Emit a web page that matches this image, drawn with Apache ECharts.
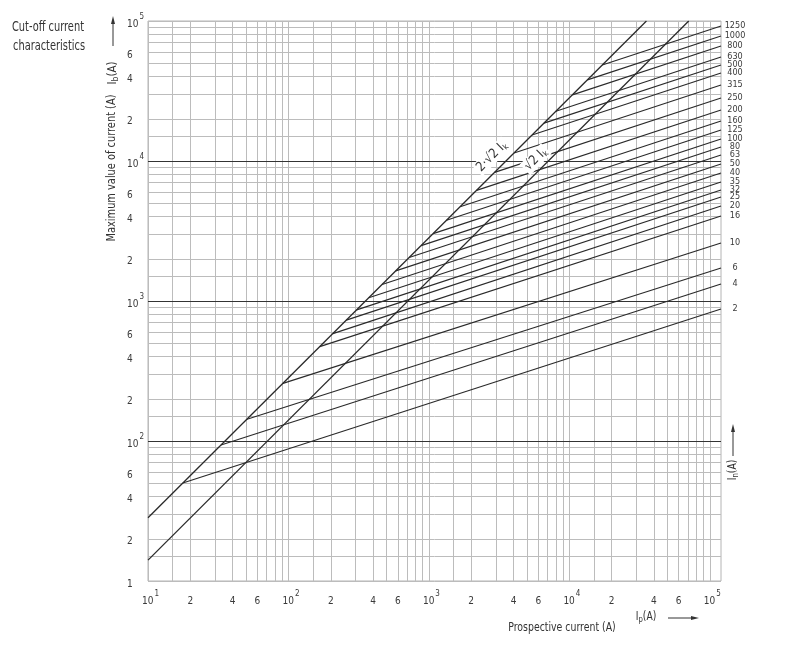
<!DOCTYPE html>
<html><head><meta charset="utf-8">
<script src="https://cdn.jsdelivr.net/npm/echarts@6/dist/echarts.min.js"></script>
<style>html,body{margin:0;padding:0;background:#fff}#c{width:792px;height:659px}</style>
</head><body><div id="c"></div>
<script>
// ---- data ----
const ratings = ['2','4','6','10','16','20','25','32','35','40','50','63','80','100','125','160','200','250','315','400','500','630','800','1000','1250'];
const startIp   = [17.7, 33.1, 50.7, 91.4, 167, 207, 258, 306, 373, 464, 580, 723, 880, 1071, 1334, 1667, 2182, 2932, 4036, 5420, 6590, 8017, 10500, 13430, 17140];
const startPeak = [50.1, 93.6, 143, 258, 472, 585, 730, 865, 1055, 1312, 1640, 2045, 2489, 3029, 3773, 4715, 6171, 8293, 11415, 15330, 18640, 22675, 29700, 37985, 48480];
const endIp = 120000;
const endPeak   = [877, 1322, 1722, 2596, 4047, 4772, 5533, 6207, 7079, 8204, 9520, 11040, 12590, 14360, 16650, 19310, 23140, 28180, 34910, 42530, 48500, 55340, 66260, 78100, 92050];
const diag2sqrt2 = [[10, 28.3], [35355, 100000]];
const diagSqrt2  = [[10, 14.1], [70711, 100000]];
const xTickLabels = [10,20,40,60,100,200,400,600,1000,2000,4000,6000,10000,20000,40000,60000,100000];
const yTickLabels = [10,20,40,60,100,200,400,600,1000,2000,4000,6000,10000,20000,40000,60000,100000];
const gridMult = [1,1.5,2,3,4,5,6,7,8,9];
const gridDecades = [10,100,1000,10000];
const darkY = [100,1000,10000];

const FONT = "'Liberation Sans Narrow','DejaVu Sans Condensed','Open Sans',sans-serif";
const TXT = '#3a3a3a';

const gridVals = [];
gridDecades.forEach(d => gridMult.forEach(m => gridVals.push(d*m)));
gridVals.push(100000);

function fmt(v, isY){
  const e = Math.round(Math.log10(v));
  if (Math.abs(v - Math.pow(10,e)) < 1e-6*v) {
    if (isY && e === 1) return '{b|1}';
    return (isY ? '' : '{p|}') + '{b|10}{s|' + e + '}';
  }
  const m = Math.round(v / Math.pow(10, Math.floor(Math.log10(v) + 1e-9)));
  return '{b|' + m + '}';
}
const rich = {
  b: {fontSize: 10, color: TXT, fontFamily: FONT, lineHeight: 16, verticalAlign: 'bottom'},
  s: {fontSize: 8, color: TXT, fontFamily: FONT, lineHeight: 16, verticalAlign: 'top', padding: [0,0,0,1]},
  p: {width: 5}
};

const series = [];
// gridlines
series.push({
  type: 'line', data: [[10,10]], symbol: 'none', silent: true, z: 1,
  lineStyle: {opacity: 0},
  markLine: {
    z: 1, silent: true, symbol: ['none','none'], animation: false, label: {show: false},
    lineStyle: {color: '#bcbcbc', width: 1, type: 'solid'},
    data: gridVals.map(v => ({xAxis: v})).concat(
      gridVals.filter(v => darkY.indexOf(v) < 0).map(v => ({yAxis: v})))
  }
});
series.push({
  type: 'line', data: [[10,10]], symbol: 'none', silent: true, z: 2,
  lineStyle: {opacity: 0},
  markLine: {
    z: 2, silent: true, symbol: ['none','none'], animation: false, label: {show: false},
    lineStyle: {color: '#333', width: 1.2, type: 'solid'},
    data: darkY.map(v => ({yAxis: v}))
  }
});
// diagonals
const diagLabelRich = {a: {fontSize: 13, fontFamily: FONT, color: '#333'}, k: {fontSize: 8, fontFamily: FONT, color: '#333', verticalAlign: 'bottom', padding: [7,0,0,0]}};
series.push({
  type: 'line', data: diag2sqrt2, symbol: 'none', silent: true, z: 5,
  lineStyle: {color: '#2a2a2a', width: 1.3},
  markPoint: {
    z: 8, symbol: 'rect', symbolSize: 0, silent: true, animation: false,
    data: [{coord: [2800, 10800]}],
    label: {show: true, position: 'inside', rotate: 45, formatter: '{a|2·√2 I}{k|k}',
      backgroundColor: '#fff', padding: [0,2], rich: diagLabelRich}
  }
});
series.push({
  type: 'line', data: diagSqrt2, symbol: 'none', silent: true, z: 5,
  lineStyle: {color: '#2a2a2a', width: 1.3},
  markPoint: {
    z: 8, symbol: 'rect', symbolSize: 0, silent: true, animation: false,
    data: [{coord: [5750, 10300]}],
    label: {show: true, position: 'inside', rotate: 45, formatter: '{a|√2 I}{k|k}',
      backgroundColor: '#fff', padding: [0,2], rich: diagLabelRich}
  }
});
// fuse lines
ratings.forEach((r, i) => {
  series.push({
    type: 'line', name: r, silent: true, z: 4,
    symbol: 'circle', symbolSize: 0, showSymbol: true,
    lineStyle: {color: '#2a2a2a', width: 1.2},
    itemStyle: {color: '#2a2a2a'},
    data: [
      {value: [startIp[i], startPeak[i]]},
      {value: [endIp, endPeak[i]], label: {show: true, position: 'right', distance: 14, align: 'center', verticalAlign: 'middle',
        formatter: r, fontSize: 9, fontFamily: FONT, color: TXT}}
    ]
  });
});

const subRich = {a: {font: "12px " + FONT, fill: '#333'}, b: {font: "9px " + FONT, fill: '#333', verticalAlign: 'bottom', padding: [5,0,0,0]}};
const chart = echarts.init(document.getElementById('c'), null, {renderer: 'canvas'});
chart.setOption({
  animation: false,
  backgroundColor: '#fff',
  grid: {left: 148, right: 71, top: 21, bottom: 78, show: true, borderColor: '#b4b4b4', borderWidth: 1, containLabel: false},
  xAxis: {
    type: 'log', logBase: 10, min: 10, max: 120000,
    axisLine: {show: false}, axisTick: {show: false}, splitLine: {show: false},
    axisLabel: {show: true, margin: 9, customValues: xTickLabels, formatter: v => fmt(v, false), rich: rich, showMinLabel: true, showMaxLabel: true, hideOverlap: false}
  },
  yAxis: {
    type: 'log', logBase: 10, min: 10, max: 100000,
    axisLine: {show: false}, axisTick: {show: false}, splitLine: {show: false},
    axisLabel: {show: true, margin: 21, align: 'left', customValues: yTickLabels, formatter: v => fmt(v, true), rich: rich, showMinLabel: true, showMaxLabel: true, hideOverlap: false}
  },
  graphic: [
    {type: 'text', x: 48, y: 27, scaleX: 0.78, style: {text: 'Cut-off current', font: "14px " + FONT, fill: '#333', align: 'center', verticalAlign: 'middle'}},
    {type: 'text', x: 49, y: 46, scaleX: 0.78, style: {text: 'characteristics', font: "14px " + FONT, fill: '#333', align: 'center', verticalAlign: 'middle'}},
    {type: 'text', x: 112, y: 168, rotation: Math.PI/2, scaleX: 0.84, style: {text: 'Maximum value of current (A)', font: "13px " + FONT, fill: '#333', align: 'center', verticalAlign: 'middle'}},
    {type: 'text', x: 113, y: 73, rotation: Math.PI/2, scaleX: 0.95, style: {text: '{a|I}{b|b}{a|(A)}', align: 'center', verticalAlign: 'middle', rich: subRich}},
    {type: 'line', shape: {x1: 113, y1: 46, x2: 113, y2: 22}, style: {stroke: '#333', lineWidth: 1}},
    {type: 'polygon', shape: {points: [[113, 16], [111, 24], [115, 24]]}, style: {fill: '#333'}},
    {type: 'text', x: 562, y: 628, scaleX: 0.8, style: {text: 'Prospective current (A)', font: "13px " + FONT, fill: '#333', align: 'center', verticalAlign: 'middle'}},
    {type: 'text', x: 646, y: 617, scaleX: 0.85, style: {text: '{a|I}{b|p}{a|(A)}', align: 'center', verticalAlign: 'middle', rich: subRich}},
    {type: 'line', shape: {x1: 668, y1: 618, x2: 692, y2: 618}, style: {stroke: '#333', lineWidth: 1}},
    {type: 'polygon', shape: {points: [[699, 618], [691, 616], [691, 620]]}, style: {fill: '#333'}},
    {type: 'text', x: 733, y: 470, rotation: Math.PI/2, scaleX: 0.85, style: {text: '{a|I}{b|n}{a|(A)}', align: 'center', verticalAlign: 'middle', rich: subRich}},
    {type: 'line', shape: {x1: 733, y1: 456, x2: 733, y2: 430}, style: {stroke: '#333', lineWidth: 1}},
    {type: 'polygon', shape: {points: [[733, 424], [731, 432], [735, 432]]}, style: {fill: '#333'}}
  ],
  series: series
});
</script>
</body></html>
